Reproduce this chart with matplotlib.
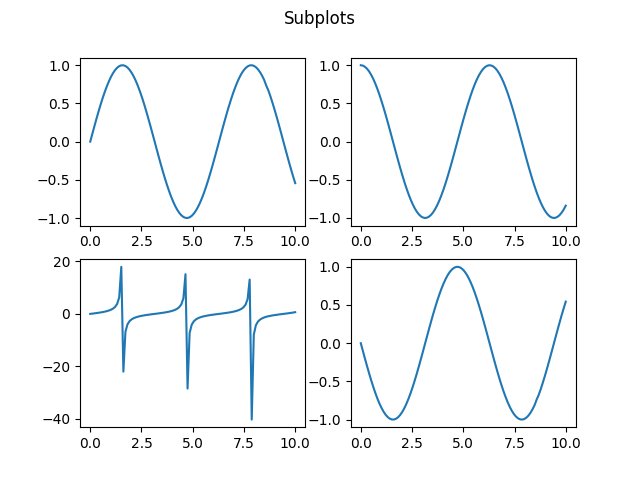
import numpy as np
import matplotlib.pyplot as plt

# sample grid, 100 points from 0 to 10
x = np.linspace(0, 10, 100)

sin_vals = [0.0, 0.1008, 0.2007, 0.2984, 0.3931, 0.4839, 0.5696, 0.6496, 0.7230, 0.7889,
            0.8469, 0.8962, 0.9364, 0.9670, 0.9878, 0.9985, 0.9990, 0.9893, 0.9696, 0.9399,
            0.9007, 0.8523, 0.7952, 0.7300, 0.6574, 0.5781, 0.4928, 0.4026, 0.3082, 0.2107,
            0.1111, 0.0103, -0.0906, -0.1906, -0.2886, -0.3837, -0.4748, -0.5612, -0.6418, -0.7158,
            -0.7826, -0.8414, -0.8916, -0.9327, -0.9643, -0.9861, -0.9978, -0.9994, -0.9908, -0.9720,
            -0.9434, -0.9051, -0.8576, -0.8014, -0.7370, -0.6651, -0.5864, -0.5017, -0.4120, -0.3180,
            -0.2207, -0.1213, -0.0206, 0.0804, 0.1805, 0.2787, 0.3742, 0.4658, 0.5526, 0.6338,
            0.7086, 0.7762, 0.8358, 0.8869, 0.9290, 0.9616, 0.9843, 0.9971, 0.9997, 0.9921,
            0.9744, 0.9467, 0.9095, 0.8629, 0.8075, 0.7339, 0.6727, 0.5947, 0.5106, 0.4213,
            0.3277, 0.2308, 0.1315, 0.0308, -0.0701, -0.1703, -0.2688, -0.3646, -0.4566, -0.5440]

cos_vals = [1.0, 0.9949, 0.9797, 0.9544, 0.9195, 0.8752, 0.8219, 0.7603, 0.6909, 0.6145,
            0.5318, 0.4437, 0.3510, 0.2548, 0.1560, 0.0556, -0.0453, -0.1459, -0.2449, -0.3414,
            -0.4344, -0.5231, -0.6063, -0.6834, -0.7536, -0.8160, -0.8701, -0.9154, -0.9513, -0.9776,
            -0.9938, -0.9999, -0.9959, -0.9817, -0.9575, -0.9235, -0.8801, -0.8277, -0.7669, -0.6983,
            -0.6225, -0.5405, -0.4529, -0.3607, -0.2648, -0.1662, -0.0659, 0.0351, 0.1357, 0.2349,
            0.3317, 0.4252, 0.5143, 0.5981, 0.6759, 0.7468, 0.8100, 0.8650, 0.9112, 0.9481,
            0.9753, 0.9926, 0.9998, 0.9968, 0.9836, 0.9604, 0.9274, 0.8849, 0.8334, 0.7735,
            0.7056, 0.6306, 0.5491, 0.4620, 0.3702, 0.2747, 0.1763, 0.0761, -0.0248, -0.1255,
            -0.2249, -0.3220, -0.4158, -0.5054, -0.5898, -0.6683, -0.7399, -0.8039, -0.8598, -0.9069,
            -0.9448, -0.9730, -0.9913, -0.9995, -0.9975, -0.9854, -0.9632, -0.9312, -0.8897, -0.8391]

tan_vals = [0.0, 0.1014, 0.2048, 0.3127, 0.4276, 0.5529, 0.6931, 0.8545, 1.0464, 1.2840,
            1.5926, 2.0200, 2.6674, 3.7947, 6.3310, 17.951, -22.029, -6.7830, -3.9595, -2.7532,
            -2.0733, -1.6295, -1.3116, -1.0682, -0.8724, -0.7084, -0.5664, -0.4398, -0.3240, -0.2155,
            -0.1118, -0.0103, 0.0910, 0.1941, 0.3014, 0.4155, 0.5395, 0.6780, 0.8368, 1.0251,
            1.2571, 1.5568, 1.9688, 2.5862, 3.6424, 5.9343, 15.146, -28.49, -7.3026, -4.1382,
            -2.8439, -2.1289, -1.6677, -1.3399, -1.0904, -0.8906, -0.7239, -0.5800, -0.4521, -0.3354,
            -0.2263, -0.1222, -0.0206, 0.0806, 0.1835, 0.2902, 0.4035, 0.5263, 0.6631, 0.8195,
            1.0043, 1.2309, 1.5222, 1.9196, 2.5093, 3.5010, 5.5836, 13.097, -40.31, -7.9064,
            -4.3329, -2.9403, -2.1871, -1.7073, -1.3690, -1.0983, -0.9093, -0.7397, -0.5939, -0.4645,
            -0.3469, -0.2372, -0.1326, -0.0309, 0.0703, 0.1729, 0.2791, 0.3916, 0.5133, 0.6484]

neg_sin_vals = [0.0, -0.1008, -0.2007, -0.2984, -0.3931, -0.4839, -0.5696, -0.6496, -0.7230, -0.7889,
                -0.8469, -0.8962, -0.9364, -0.9670, -0.9878, -0.9985, -0.9990, -0.9893, -0.9696, -0.9399,
                -0.9007, -0.8523, -0.7952, -0.7300, -0.6574, -0.5781, -0.4928, -0.4026, -0.3082, -0.2107,
                -0.1111, -0.0103, 0.0906, 0.1906, 0.2886, 0.3837, 0.4748, 0.5612, 0.6418, 0.7158,
                0.7826, 0.8414, 0.8916, 0.9327, 0.9643, 0.9861, 0.9978, 0.9994, 0.9908, 0.9720,
                0.9434, 0.9051, 0.8576, 0.8014, 0.7370, 0.6651, 0.5864, 0.5017, 0.4120, 0.3180,
                0.2207, 0.1213, 0.0206, -0.0804, -0.1805, -0.2787, -0.3742, -0.4658, -0.5526, -0.6338,
                -0.7086, -0.7762, -0.8358, -0.8869, -0.9290, -0.9616, -0.9843, -0.9971, -0.9997, -0.9921,
                -0.9744, -0.9467, -0.9095, -0.8629, -0.8075, -0.7339, -0.6727, -0.5947, -0.5106, -0.4213,
                -0.3277, -0.2308, -0.1315, -0.0308, 0.0701, 0.1703, 0.2688, 0.3646, 0.4566, 0.5440]

fig, axs = plt.subplots(2, 2, figsize=(6.4, 4.8), dpi=100)
fig.suptitle('Subplots')

axs[0, 0].plot(x, sin_vals)
axs[0, 1].plot(x, cos_vals)
axs[1, 0].plot(x, tan_vals)
axs[1, 1].plot(x, neg_sin_vals)

plt.savefig('out.png')
